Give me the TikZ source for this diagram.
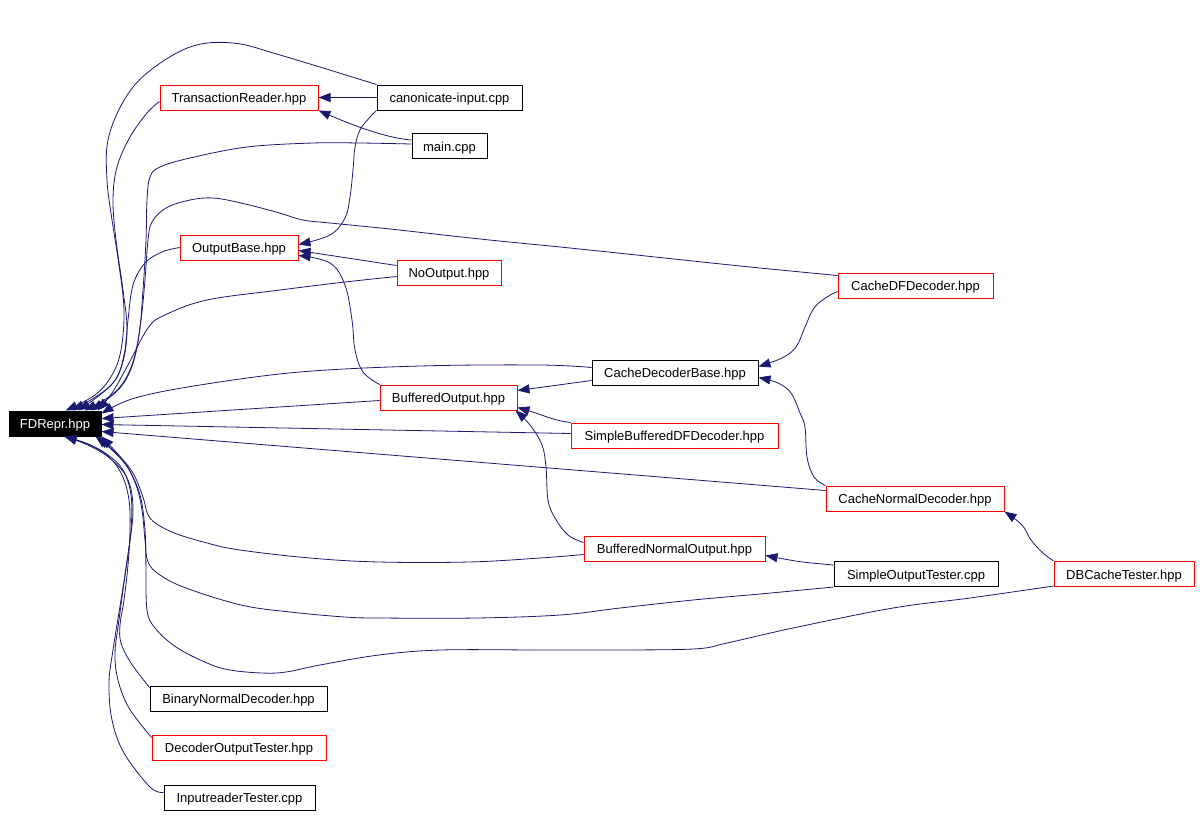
\documentclass[tikz,border=0pt]{standalone}
\usepackage{fontspec}
\setmainfont{Liberation Sans}
\usetikzlibrary{arrows.meta,calc}
\definecolor{edgec}{HTML}{191970}
\begin{document}
\begin{tikzpicture}[x=1pt,y=-1pt,
  box/.style={draw, line width=1pt, inner sep=0pt, minimum height=25pt, text height=10pt, text depth=0pt, font=\fontsize{13}{15}\selectfont},
  redbox/.style={box, draw=red},
  blackbox/.style={box, draw=black},
  edge/.style={draw=edgec, line width=0.8pt, -{Triangle[length=12pt,width=9pt]}},
  sm/.style={smooth, tension=0.6}
]
\useasboundingbox (0,0) rectangle (1202,815);
% nodes
\node[blackbox, fill=black, text=white, minimum width=92pt] (FD) at (55,423.5) {FDRepr.hpp};
\node[redbox, minimum width=158pt] (TR) at (239,97.5) {TransactionReader.hpp};
\node[blackbox, minimum width=145pt] (canon) at (449.5,97.5) {canonicate-input.cpp};
\node[blackbox, minimum width=75pt] (main) at (449.5,146) {main.cpp};
\node[redbox, minimum width=118pt] (OB) at (239,247.5) {OutputBase.hpp};
\node[redbox, minimum width=104pt] (NO) at (449,272.5) {NoOutput.hpp};
\node[redbox, minimum width=155pt] (CDF) at (915.5,285.5) {CacheDFDecoder.hpp};
\node[blackbox, minimum width=166pt] (CDB) at (675,372.5) {CacheDecoderBase.hpp};
\node[redbox, minimum width=137pt] (BO) at (448.5,397.5) {BufferedOutput.hpp};
\node[redbox, minimum width=207pt] (SBDF) at (674.5,435.5) {SimpleBufferedDFDecoder.hpp};
\node[redbox, minimum width=178pt] (CND) at (915,498.5) {CacheNormalDecoder.hpp};
\node[redbox, minimum width=181pt] (BNO) at (674.5,548.5) {BufferedNormalOutput.hpp};
\node[blackbox, minimum width=164pt] (SOT) at (916,574) {SimpleOutputTester.cpp};
\node[redbox, minimum width=140pt] (DBC) at (1124,574) {DBCacheTester.hpp};
\node[blackbox, minimum width=177pt] (BND) at (238.5,698.5) {BinaryNormalDecoder.hpp};
\node[redbox, minimum width=174pt] (DOT) at (239,747.5) {DecoderOutputTester.hpp};
\node[blackbox, minimum width=151pt] (IRT) at (239.5,797.5) {InputreaderTester.cpp};
% edges into FDRepr from above
\draw[edge] plot[sm] coordinates {(canon.north west) (280,55) (233,43) (190,47) (147,73) (123,102) (108,140) (107,180) (112,220) (119,265) (124,310) (121,350) (112,375) (95,395) ($(FD.north west)+(57,0)$)};
\draw[edge] plot[sm] coordinates {($(TR.west)+(0,4)$) (147,113) (130,137) (117,167) (113,200) (116,240) (123,290) (127,330) (122,365) (108,388) ($(FD.north west)+(64,0)$)};
\draw[edge] plot[sm] coordinates {($(main.west)+(0,-2)$) (360,143) (313,143) (247,147) (190,158) (160,167) (150,177) (147,200) (146,240) (143,290) (139,335) (130,370) (114,393) ($(FD.north west)+(76,0)$)};
\draw[edge] plot[sm] coordinates {(OB.west) (162,252) (145,263) (133,285) (128,320) (124,355) (113,383) ($(FD.north west)+(70,0)$)};
\draw[edge] plot[sm] coordinates {($(NO.west)+(0,4)$) (345,282) (280,290) (207,300) (165,315) (148,328) (128,365) (112,393) ($(FD.north east)+(-4,0)$)};
\draw[edge] plot[sm] coordinates {($(CDF.north west)+(0,3)$) (750,267) (660,257.5) (570,248) (480,239) (390,229) (330,223) (303,220) (276,212) (241,203) (213,198) (190,200) (166,208) (152,222) (148,240) (145,280) (141,320) (134,360) (120,388) ($(FD.north east)+(-10,0)$)};
\draw[edge] plot[sm] coordinates {($(CDB.west)+(0,-5)$) (540,365) (420,366) (300,372) (200,385) (135,398) ($(FD.north east)+(0,3)$)};
% edges into FDRepr from the right
\draw[edge] ($(BO.west)+(0,3)$) -- ($(FD.east)+(0,-5)$);
\draw[edge] ($(SBDF.west)+(0,-2)$) -- ($(FD.east)+(0,1)$);
\draw[edge] ($(CND.west)+(0,-8)$) -- ($(FD.east)+(0,8)$);
% edges into FDRepr from below
\draw[edge] plot[sm] coordinates {($(BNO.west)+(0,6)$) (540,558) (469,562) (379,562) (310,558) (240,550) (207,543) (172,532) (150,518) (143,497) (133,473) (117,453) (FD.south east)};
\draw[edge] plot[sm] coordinates {(SOT.south west) (760,594) (693,600) (620,608) (560,615) (476,618) (379,618) (345,617) (290,612) (241,605) (186,588) (160,575) (148,562) (145,540) (142,510) (136,485) (124,462) ($(FD.south east)+(-3,0)$)};
\draw[edge] plot[sm] coordinates {($(DBC.south west)+(0,-1)$) (970,598) (893,608) (793,628) (727,643) (693,649) (600,650) (540,650) (441,650) (379,655) (320,665) (286,672) (262,673) (230,670) (207,663) (176,647) (155,628) (147,610) (146,570) (145,530) (140,495) (128,468) (112,450) ($(FD.south east)+(-6,0)$)};
\draw[edge] plot[sm] coordinates {($(BND.north west)+(0,2)$) (131,663) (121,643) (120,625) (124,600) (128,565) (130,530) (129,500) (122,475) (108,456) (88,444) ($(FD.south west)+(56,0)$)};
\draw[edge] plot[sm] coordinates {($(DOT.north west)+(0,3)$) (129,708) (118,680) (115,653) (119,620) (125,575) (131,530) (131,495) (123,470) (108,455) (88,444) ($(FD.south west)+(56,0)$)};
\draw[edge] plot[sm] coordinates {($(IRT.west)+(0,-5)$) (150,787) (124,753) (112,720) (109,683) (113,650) (121,600) (128,555) (133,510) (128,480) (112,460) (90,446) ($(FD.south west)+(56,0)$)};
% other edges
\draw[edge] (canon.west) -- (TR.east);
\draw[edge] ($(main.west)+(0,-6)$) .. controls (385,138) and (350,124) .. (TR.south east);
\draw[edge] plot[sm] coordinates {(canon.south west) (370,117) (360,130) (355,147) (353,170) (350,197) (345,218) (330,235) ($(OB.east)+(0,-3)$)};
\draw[edge] ($(NO.west)+(0,-7)$) -- ($(OB.east)+(0,3)$);
\draw[edge] plot[sm] coordinates {(BO.north west) (363,372) (355,350) (352,320) (345,285) (330,263) ($(OB.east)+(0,8)$)};
\draw[edge] ($(CDB.west)+(0,8)$) -- ($(BO.east)+(0,-7)$);
\draw[edge] (SBDF.north west) .. controls (555,421) and (540,414) .. ($(BO.east)+(0,10)$);
\draw[edge] plot[sm] coordinates {($(BNO.north west)+(0,7)$) (568,535) (555,518) (548,500) (546,467) (542,445) (530,425) ($(BO.south east)+(-2,0)$)};
\draw[edge] plot[sm] coordinates {($(CDF.west)+(0,6)$) (827,297) (814,308) (805,327) (796,347) (782,358) ($(CDB.east)+(0,-6)$)};
\draw[edge] plot[sm] coordinates {(CND.north west) (814,477) (807,457) (805,427) (800,413) (791,393) (778,383) ($(CDB.east)+(0,5)$)};
\draw[edge] plot[sm] coordinates {(DBC.north west) (1043,553) (1031,540) (1022,525) (CND.south east)};
\draw[edge] ($(SOT.west)+(0,-9)$) .. controls (800,562) .. ($(BNO.east)+(0,7)$);
\end{tikzpicture}
\end{document}
